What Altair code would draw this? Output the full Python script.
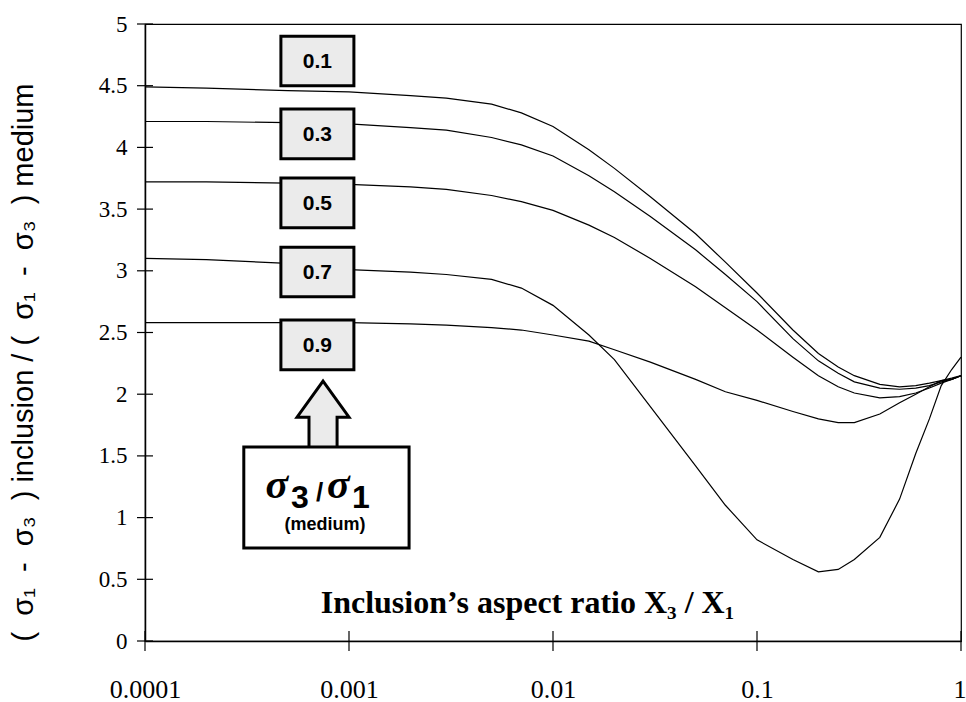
import altair as alt
import pandas as pd

# ---------------- data ----------------
x_ratio = [0.0001, 0.0002, 0.0005, 0.001, 0.002, 0.003, 0.005, 0.007, 0.01, 0.015,
           0.02, 0.03, 0.05, 0.07, 0.1, 0.15, 0.2, 0.25, 0.3, 0.4, 0.5, 0.6, 0.7,
           0.8, 0.9, 1.0]

s_01 = [4.49, 4.48, 4.46, 4.45, 4.42, 4.40, 4.35, 4.28, 4.17, 3.98, 3.83, 3.60, 3.30,
        3.07, 2.82, 2.52, 2.33, 2.22, 2.15, 2.08, 2.06, 2.07, 2.09, 2.11, 2.12, 2.15]
s_03 = [4.21, 4.21, 4.20, 4.19, 4.16, 4.14, 4.08, 4.02, 3.93, 3.77, 3.64, 3.44, 3.17,
        2.97, 2.75, 2.45, 2.27, 2.17, 2.10, 2.05, 2.04, 2.05, 2.07, 2.10, 2.12, 2.15]
s_05 = [3.72, 3.72, 3.71, 3.70, 3.68, 3.66, 3.61, 3.56, 3.49, 3.37, 3.27, 3.10, 2.87,
        2.70, 2.52, 2.30, 2.15, 2.06, 2.01, 1.97, 1.98, 2.01, 2.05, 2.09, 2.12, 2.15]
s_07 = [3.10, 3.09, 3.06, 3.01, 2.99, 2.97, 2.93, 2.86, 2.72, 2.48, 2.28, 1.90, 1.42,
        1.10, 0.82, 0.66, 0.56, 0.58, 0.66, 0.84, 1.15, 1.52, 1.80, 2.07, 2.20, 2.30]
s_09 = [2.58, 2.58, 2.58, 2.58, 2.57, 2.56, 2.54, 2.52, 2.48, 2.43, 2.36, 2.26, 2.12,
        2.02, 1.95, 1.86, 1.80, 1.77, 1.77, 1.84, 1.93, 2.00, 2.06, 2.11, 2.13, 2.15]

ratio_labels = ["0.1", "0.3", "0.5", "0.7", "0.9"]
label_x = [7.0e-4] * 5
label_y = [4.70, 4.11, 3.55, 2.99, 2.40]

x_ticks = [0.0001, 0.001, 0.01, 0.1, 1]
y_ticks = [0, 0.5, 1, 1.5, 2, 2.5, 3, 3.5, 4, 4.5, 5]

arrow_pos = {"ax": [7.46e-4], "ay": [1.835]}
legend_box = {"x0": [3.05e-4], "x1": [1.97e-3], "y0": [0.754], "y1": [1.572]}
legend_anchor = {"lx": [7.76e-4], "ly": [1.163]}

# ---------------- tables ----------------
rows = []
for lab, ys in zip(ratio_labels, [s_01, s_03, s_05, s_07, s_09]):
    for xv, yv in zip(x_ratio, ys):
        rows.append({"x": xv, "y": yv, "ratio": lab})
curves = pd.DataFrame(rows)
labels_df = pd.DataFrame({"lab": ratio_labels, "lx": label_x, "ly": label_y})
xt_df = pd.DataFrame({"t": x_ticks})
yt_df = pd.DataFrame({"t": y_ticks})
arrow_df = pd.DataFrame(arrow_pos)
box_df = pd.DataFrame(legend_box)
anchor_df = pd.DataFrame(legend_anchor)

xscale = alt.Scale(type="log", domain=[0.0001, 1])
yscale = alt.Scale(domain=[0, 5], nice=False, zero=False)

SERIF = "Liberation Serif"
SANS = "Liberation Sans"
SP = "\u2007"
SIG = "\u03c3"
group = f"({SP}{SIG}\u2081{SP}-{SP}{SIG}\u2083{SP})"
y_title = f"{group} inclusion / {group} medium"

x_axis = alt.Axis(
    values=x_ticks, format="~g", ticks=False, grid=False,
    labelFont=SERIF, labelFontSize=26, labelColor="black",
    labelPadding=56, labelBaseline="alphabetic", labelFlush=False,
    labelOverlap=False, domainColor="black", domainWidth=1.5,
    labelAlign={"expr": "datum.value >= 1 ? 'right' : 'center'"},
    labelOffset={"expr": "datum.value >= 1 ? 5 : 0"},
    title="Inclusion\u2019s aspect ratio X\u2083 / X\u2081",
    titleFont=SERIF, titleFontSize=32, titleFontWeight="bold",
    titleColor="black", titleX=382, titleY=-29, titleAlign="center",
    titleBaseline="alphabetic")
y_axis = alt.Axis(
    values=y_ticks, format="~g", ticks=False, grid=False,
    labelFont=SERIF, labelFontSize=23, labelColor="black",
    labelPadding=18, labelBaseline="middle",
    domainColor="black", domainWidth=1.5,
    title=y_title,
    titleFont=SANS, titleFontSize=29, titleFontWeight="normal",
    titleColor="black", titleX=-122, titleY=338, titleAngle=270,
    titleAlign="center", titleBaseline="middle")


def X(field):
    return alt.X(field, scale=xscale, axis=x_axis)


def Y(field):
    return alt.Y(field, scale=yscale, axis=y_axis)


lines = alt.Chart(curves).mark_line(color="black", strokeWidth=1.2).encode(
    x=X("x:Q"), y=Y("y:Q"), detail="ratio:N",
)

xt = alt.Chart(xt_df).mark_tick(orient="vertical", size=20, thickness=1.2,
                                color="black", opacity=1).encode(
    x=X("t:Q"),
    y=alt.YDatum(0, scale=yscale, axis=y_axis),
)
yt = alt.Chart(yt_df).mark_tick(orient="horizontal", size=16, thickness=1.2,
                                color="black", opacity=1).encode(
    y=Y("t:Q"),
    x=alt.XDatum(0.0001, scale=xscale, axis=x_axis),
)

box_shape = "M-1,-0.68H1V0.68H-1Z"
boxes = alt.Chart(labels_df).mark_point(
    shape=box_shape, size=5329, filled=True, fill="#ebebeb", stroke="black",
    strokeWidth=3, opacity=1, fillOpacity=1, strokeOpacity=1).encode(
    x=X("lx:Q"), y=Y("ly:Q"),
)
box_text = alt.Chart(labels_df).mark_text(
    font=SANS, fontSize=21, fontWeight="bold", color="black",
    baseline="middle", align="center", dy=1).encode(
    x=X("lx:Q"), y=Y("ly:Q"), text="lab:N",
)

arrow_shape = "M0,-1.29L1,0.1L0.54,0.1L0.54,1.29L-0.54,1.29L-0.54,0.1L-1,0.1Z"
arrow = alt.Chart(arrow_df).mark_point(
    shape=arrow_shape, size=2704, filled=True, fill="#ebebeb", stroke="black",
    strokeWidth=3, opacity=1, fillOpacity=1, strokeOpacity=1).encode(
    x=X("ax:Q"), y=Y("ay:Q"),
)

legend_rect = alt.Chart(box_df).mark_rect(
    fill="white", stroke="black", strokeWidth=3).encode(
    x=X("x0:Q"), x2="x1:Q", y=Y("y0:Q"), y2="y1:Q",
)


def piece(txt, dx, dy, font, size, style="normal"):
    return alt.Chart(anchor_df).mark_text(
        text=txt, dx=dx, dy=dy, font=font, fontSize=size, fontWeight="bold",
        fontStyle=style, align="left", baseline="alphabetic", color="black").encode(
        x=X("lx:Q"), y=Y("ly:Q"),
    )


legend_texts = [
    piece(SIG, -61, 0.5, SERIF, 42, "italic"),
    piece("3", -35.5, 10.5, SANS, 32),
    piece("/", -10.5, 3.5, SANS, 26),
    piece(SIG, 0.5, 0.5, SERIF, 42, "italic"),
    piece("1", 25.5, 10.5, SANS, 32),
    alt.Chart(anchor_df).mark_text(
        text="(medium)", dx=-1.5, dy=32.5, font=SANS, fontSize=18,
        fontWeight="bold", align="center", baseline="alphabetic",
        color="black").encode(x=X("lx:Q"), y=Y("ly:Q")),
]

chart = alt.layer(lines, xt, yt, boxes, box_text, arrow, legend_rect,
                  *legend_texts).properties(
    width=816, height=617,
    padding={"left": 145, "top": 24, "right": 5, "bottom": 61},
    autosize="none", background="white",
).configure_view(stroke="black", strokeWidth=1.2)

chart.save("out.html", embed_options={"renderer": "svg", "actions": False})
